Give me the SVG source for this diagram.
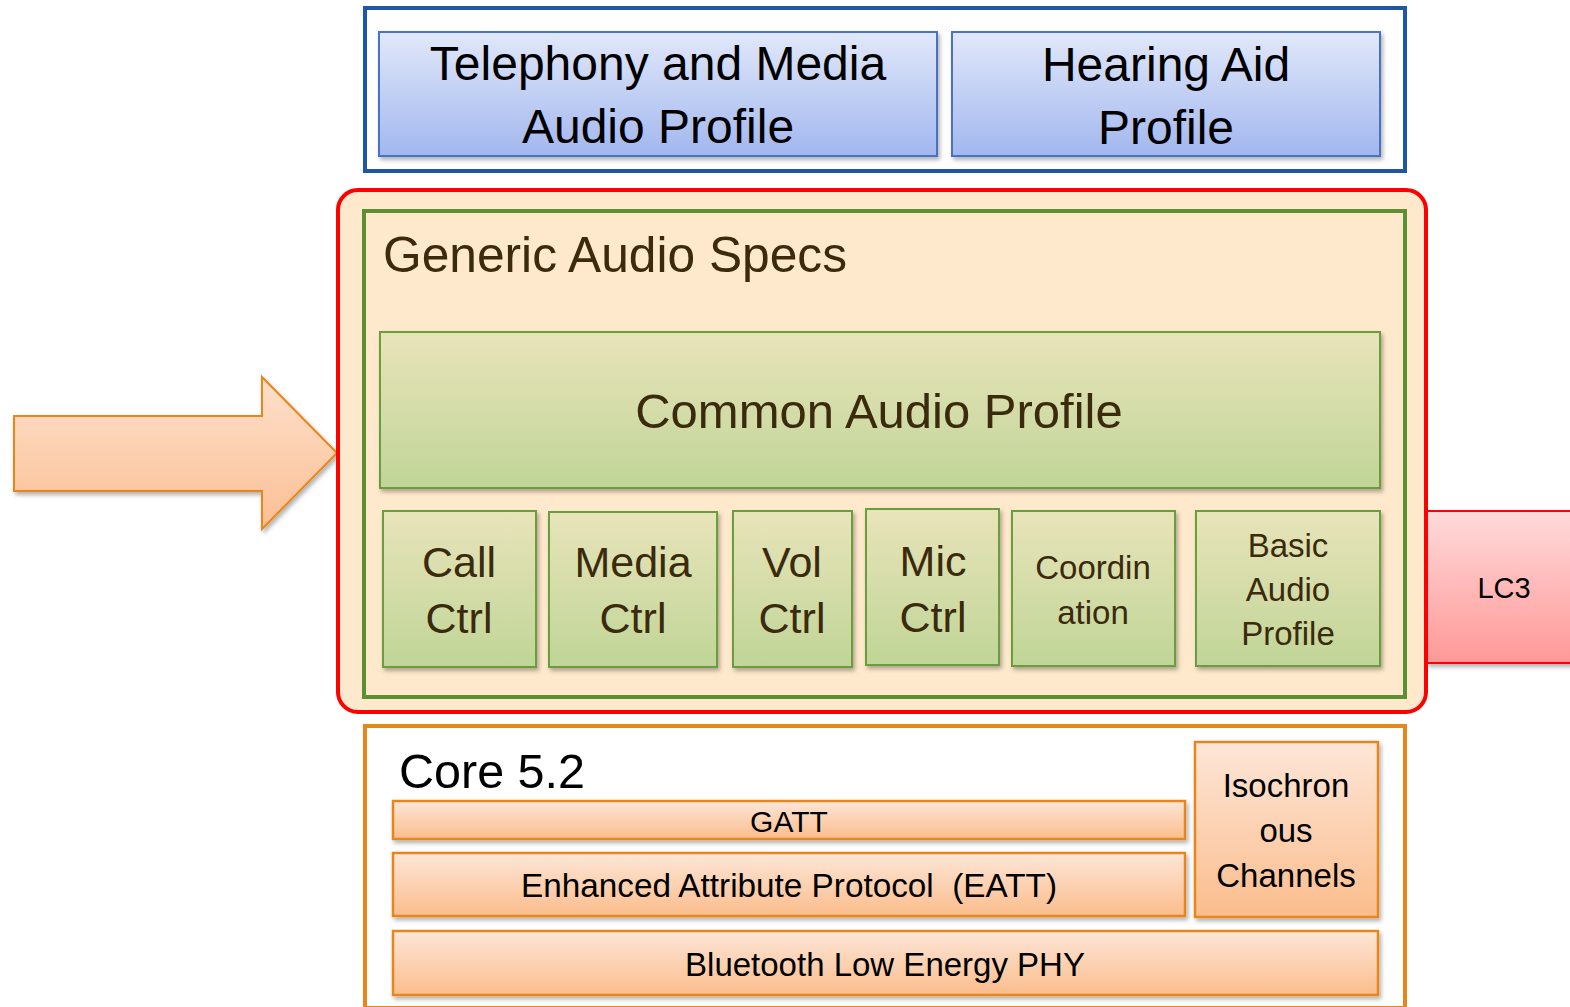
<svg xmlns="http://www.w3.org/2000/svg" width="1570" height="1007" viewBox="0 0 1570 1007">
<defs>
<linearGradient id="gBlue" x1="0" y1="0" x2="0" y2="1"><stop offset="0" stop-color="#e1e8f9"/><stop offset="1" stop-color="#a2b7ef"/></linearGradient>
<linearGradient id="gGreen" x1="0" y1="0" x2="0" y2="1"><stop offset="0" stop-color="#e8e4ba"/><stop offset="1" stop-color="#c0d597"/></linearGradient>
<linearGradient id="gOrange" x1="0" y1="0" x2="0" y2="1"><stop offset="0" stop-color="#fde6d8"/><stop offset="1" stop-color="#fbbd8c"/></linearGradient>
<linearGradient id="gArrow" x1="0" y1="0" x2="0" y2="1"><stop offset="0" stop-color="#fde0cb"/><stop offset="1" stop-color="#fbbf94"/></linearGradient>
<linearGradient id="gPink" x1="0" y1="0" x2="0" y2="1"><stop offset="0" stop-color="#ffdada"/><stop offset="1" stop-color="#ff9898"/></linearGradient>
<filter id="sh" x="-10%" y="-10%" width="130%" height="140%"><feDropShadow dx="2" dy="3" stdDeviation="2" flood-color="#000" flood-opacity="0.3"/></filter>
</defs>
<style>
text{font-family:"Liberation Sans",Arial,sans-serif;text-anchor:middle}
.blue{fill:url(#gBlue);stroke:#4a72c4;stroke-width:2;filter:url(#sh)}
.green{fill:url(#gGreen);stroke:#6b9d3e;stroke-width:2;filter:url(#sh)}
.orange{fill:url(#gOrange);stroke:#e8861a;stroke-width:2.5;filter:url(#sh)}
.k{fill:#000}
.br{fill:#3b2a0c}
</style>

<g id="arrow">
<polygon points="14,416 262,416 262,377 337,453 262,529 262,491 14,491" fill="url(#gArrow)" stroke="#e8861a" stroke-width="2" filter="url(#sh)"/>
</g>

<g id="profiles">
<rect x="365" y="8" width="1040" height="163" fill="#fff" stroke="#1f56a8" stroke-width="4"/>
<g id="tmap">
<rect class="blue" x="379" y="32" width="558" height="124"/>
<text class="k" x="658" y="80" font-size="48">Telephony and Media</text>
<text class="k" x="658" y="143" font-size="48">Audio Profile</text>
</g>
<g id="hap">
<rect class="blue" x="952" y="32" width="428" height="124"/>
<text class="k" x="1166" y="81" font-size="48">Hearing Aid</text>
<text class="k" x="1166" y="144" font-size="48">Profile</text>
</g>
</g>

<g id="lc3">
<rect x="1427" y="511" width="150" height="152" fill="url(#gPink)" stroke="#ff0000" stroke-width="2" filter="url(#sh)"/>
<text class="k" x="1504" y="598" font-size="29">LC3</text>
</g>

<g id="generic">
<rect x="338" y="190" width="1088" height="522" rx="20" fill="#fee9cc" stroke="#ff0000" stroke-width="4"/>
<rect x="364" y="211" width="1041" height="486" fill="#fee9cc" stroke="#5b8f32" stroke-width="4"/>
<text class="br" x="383" y="272" font-size="49.7" style="text-anchor:start">Generic Audio Specs</text>
<g id="cap">
<rect class="green" x="380" y="332" width="1000" height="156"/>
<text class="br" x="879" y="428" font-size="49">Common Audio Profile</text>
</g>
<g id="callctrl">
<rect class="green" x="383" y="511" width="153" height="156"/>
<text class="br" x="459" y="577" font-size="43">Call</text>
<text class="br" x="459" y="633" font-size="43">Ctrl</text>
</g>
<g id="mediactrl">
<rect class="green" x="549" y="512" width="168" height="155"/>
<text class="br" x="633" y="577" font-size="43">Media</text>
<text class="br" x="633" y="633" font-size="43">Ctrl</text>
</g>
<g id="volctrl">
<rect class="green" x="733" y="511" width="119" height="156"/>
<text class="br" x="792" y="577" font-size="43">Vol</text>
<text class="br" x="792" y="633" font-size="43">Ctrl</text>
</g>
<g id="micctrl">
<rect class="green" x="866" y="509" width="133" height="156"/>
<text class="br" x="933" y="576" font-size="43">Mic</text>
<text class="br" x="933" y="632" font-size="43">Ctrl</text>
</g>
<g id="coord">
<rect class="green" x="1012" y="511" width="163" height="155"/>
<text class="br" x="1093" y="579" font-size="33">Coordin</text>
<text class="br" x="1093" y="624" font-size="33">ation</text>
</g>
<g id="bap">
<rect class="green" x="1196" y="511" width="184" height="155"/>
<text class="br" x="1288" y="557" font-size="33">Basic</text>
<text class="br" x="1288" y="601" font-size="33">Audio</text>
<text class="br" x="1288" y="645" font-size="33">Profile</text>
</g>
</g>

<g id="core">
<rect x="365" y="726" width="1040" height="282" fill="#fff" stroke="#e8861a" stroke-width="4"/>
<text class="k" x="399" y="788" font-size="48.5" style="text-anchor:start">Core 5.2</text>
<g id="gatt">
<rect class="orange" x="393" y="801" width="792" height="38"/>
<text class="k" x="789" y="832" font-size="30">GATT</text>
</g>
<g id="eatt">
<rect class="orange" x="393" y="853" width="792" height="63"/>
<text class="k" x="789" y="897" font-size="33.3" xml:space="preserve">Enhanced Attribute Protocol  (EATT)</text>
</g>
<g id="iso">
<rect class="orange" x="1195" y="742" width="183" height="175"/>
<text class="k" x="1286" y="797" font-size="33">Isochron</text>
<text class="k" x="1286" y="842" font-size="33">ous</text>
<text class="k" x="1286" y="887" font-size="33">Channels</text>
</g>
<g id="phy">
<rect class="orange" x="393" y="931" width="985" height="64"/>
<text class="k" x="885" y="976" font-size="33">Bluetooth Low Energy PHY</text>
</g>
</g>
<g id="connectors"/>
</svg>
